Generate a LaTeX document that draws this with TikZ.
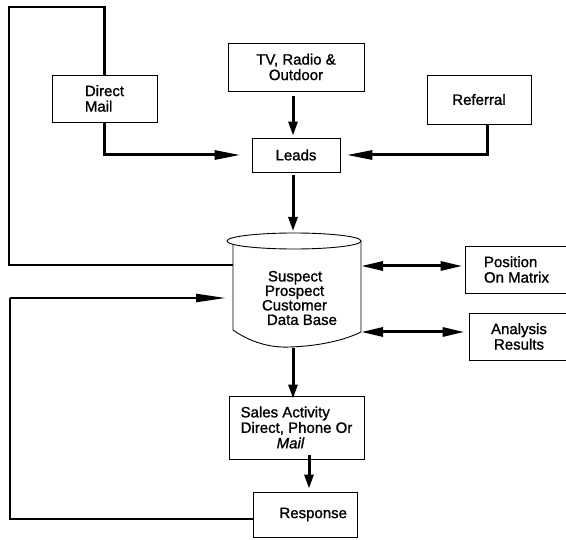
\documentclass[tikz,border=0pt]{standalone}
\usepackage{fontspec}
\setmainfont{Liberation Sans}[
  BoldFont=Liberation Sans, BoldFeatures={FakeBold=1.2},
  BoldItalicFont=Liberation Sans Italic, BoldItalicFeatures={FakeBold=1.2}]
\usetikzlibrary{arrows.meta}
\newcommand\diagfont{\fontsize{15}{15.5}\selectfont\bfseries}
\tikzset{
  box/.style={draw, line width=0.9pt, inner sep=0pt, font=\diagfont},
  lbl/.style={inner sep=0pt, font=\diagfont},
  hhead/.style={-{Triangle[length=26pt,width=9pt]}},
  vflow/.style={line width=3pt, -{Triangle[length=14pt,width=9pt]}},
  hflow/.style={line width=3pt, hhead},
  dflow/.style={line width=3pt, {Triangle[length=22pt,width=9pt]}-{Triangle[length=22pt,width=9pt]}},
  loopline/.style={line width=2.4pt},
  shell/.style={line width=0.9pt}
}
\begin{document}
\begin{tikzpicture}[x=1pt, y=-1pt]
\useasboundingbox (0,0) rectangle (566,540);
\clip (0,0) rectangle (566,540);

% source boxes
\node[box, minimum width=105pt, minimum height=47pt, align=left] (dm) at (104.5,98.5) {Direct\\Mail};
\node[box, minimum width=136pt, minimum height=48pt, align=center] (tv) at (296,67) {TV, Radio \&\\Outdoor};
\node[box, minimum width=104pt, minimum height=49pt] (ref) at (479,99.5) {Referral};
\node[box, minimum width=88pt, minimum height=34pt] (leads) at (296,155) {Leads};

% data base cylinder
\draw[shell] (294,241) ellipse [x radius=67pt, y radius=8pt];
\draw[shell] (233,244.5) -- (233,330)
  .. controls (250,342) and (270,348) .. (290,347)
  .. controls (320,346) and (345,340) .. (361,332) -- (361,241);
\node[lbl, align=left, font=\fontsize{15}{14.5}\selectfont\bfseries] (db) at (299.5,298)
  {\hspace*{6pt}Suspect\\\hspace*{3pt}Prospect\\Customer\\\hspace*{5pt}Data Base};
\coordinate (dbtop) at (293,231);
\coordinate (dbbot) at (293,348);
\coordinate (dbr1) at (361,266);
\coordinate (dbr2) at (361,332);
\coordinate (dbl1) at (233,265);
\coordinate (dbl2) at (226,298);

% result boxes on the right (open towards the edge)
\node[box, minimum width=103pt, minimum height=47pt, align=left] (pos) at (516.5,269.5) {Position\\On Matrix};
\node[box, minimum width=100pt, minimum height=47pt, align=center] (ana) at (519,336.5) {Analysis\\Results};

% sales and response
\node[box, minimum width=135pt, minimum height=63pt, align=left] (sales) at (296.5,427.5)
  {Sales Activity\\Direct, Phone Or\\\hspace*{36pt}\textit{Mail}};
\node[box, minimum width=104pt, minimum height=45pt, text width=84pt, inner xsep=10pt, align=right] (resp) at (305,514.5) {Response};
\coordinate (sr) at (309,455);

% lead sources into Leads
\draw[vflow, shorten <=5pt, shorten >=2pt] (tv.south -| dbtop) -- (leads.north -| dbtop);
\draw[hflow, shorten >=11pt] (dm.south) |- (leads.west);
\draw[hflow, shorten >=6pt] ([xshift=8pt]ref.south) |- (leads.east);

% main flow
\draw[vflow, shorten <=3pt] (leads.south -| dbtop) -- (dbtop);
\draw[vflow, shorten >=-3pt] (dbbot) -- (sales.north -| dbbot);
\draw[vflow, shorten >=3pt] (sr) -- (sr |- resp.north);

% exchanges with the data base
\draw[dflow, shorten >=2pt] (dbr1) -- (dbr1 -| pos.west);
\draw[dflow, shorten >=4pt] (dbr2) -- (dbr2 -| ana.west);

% feedback loops
\coordinate (tl) at (9,7);
\draw[loopline] (dm.north) |- (tl) -- (tl |- dbl1) -- (dbl1);
\coordinate (bl) at (10,298);
\draw[loopline] ([yshift=-4.5pt]resp.west) -| (bl);
\draw[loopline, -{Triangle[length=30pt,width=8pt]}] (bl) -- (dbl2);
\end{tikzpicture}
\end{document}
